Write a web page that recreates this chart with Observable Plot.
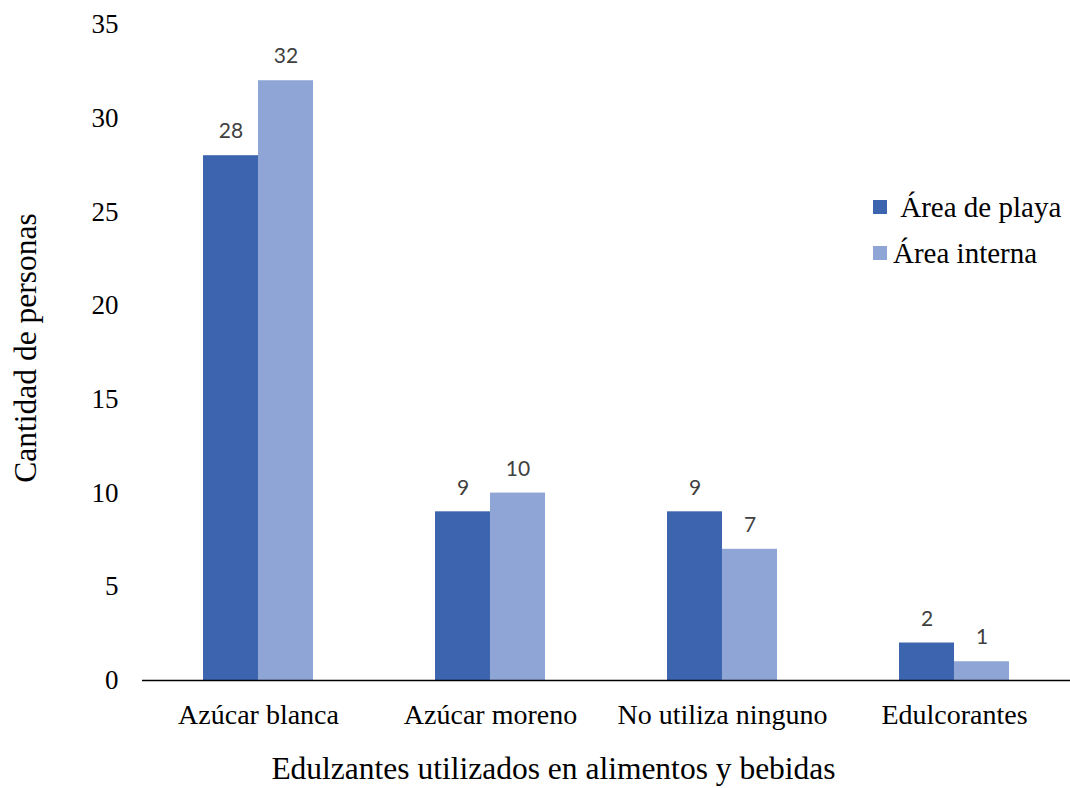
<!DOCTYPE html>
<html>
<head>
<meta charset="utf-8">
<script src="https://cdn.jsdelivr.net/npm/d3@7"></script>
<script src="https://cdn.jsdelivr.net/npm/@observablehq/plot@0.6"></script>
<style>
  body { margin: 0; background: white; }
  #wrap { position: relative; width: 1070px; height: 788px; }
  #legend { position: absolute; left: 873px; top: 184px; font-family: "Liberation Serif", "Times New Roman", serif; font-size: 29px; color: #000; }
  .item { display: flex; align-items: center; height: 46px; white-space: pre; }
  .sw { width: 14px; height: 14px; margin-right: 6px; }
</style>
</head>
<body>
<div id="wrap"><div id="legend"></div></div>
<script>
const categories = ["Azúcar blanca", "Azúcar moreno", "No utiliza ninguno", "Edulcorantes"];
const series = ["Área de playa", "Área interna"];
const playa = [28, 9, 9, 2];
const interna = [32, 10, 7, 1];
const yTicks = [0, 5, 10, 15, 20, 25, 30, 35];
const colors = ["#3D64AE", "#8FA5D5"];
const xTitle = "Edulzantes utilizados en alimentos y bebidas";
const yTitle = "Cantidad de personas";

const data = categories.flatMap((c, i) => [
  {cat: c, serie: series[0], value: playa[i]},
  {cat: c, serie: series[1], value: interna[i]}
]);

const serif = "Liberation Serif, 'Times New Roman', serif";

const chart = Plot.plot({
  width: 1070,
  height: 788,
  marginLeft: 141,
  marginRight: 0,
  marginTop: 24,
  marginBottom: 108,
  style: {fontFamily: serif, background: "white", color: "black", fontSize: "27px"},
  fx: {domain: categories, padding: 0},
  x: {domain: series, paddingInner: 0, paddingOuter: 1.09, axis: null},
  y: {domain: [0, 35]},
  color: {domain: series, range: colors},
  marks: [
    Plot.barY(data, {fx: "cat", x: "serie", y: "value", fill: "serie"}),
    Plot.text(data, {fx: "cat", x: "serie", y: "value", text: d => String(d.value), dy: -24, fontSize: 21, fill: "#404040", fontFamily: "Lato, 'Open Sans', sans-serif"}),
    Plot.ruleY([0], {stroke: "black", strokeWidth: 1.3}),
    Plot.axisY({ticks: yTicks, tickSize: 0, tickPadding: 24, fontSize: 27, label: null}),
    Plot.axisFx({anchor: "bottom", tickSize: 0, tickPadding: 24, fontSize: 28, label: null})
  ]
});

const svg = d3.select(chart.tagName.toLowerCase() === "svg" ? chart : chart.querySelector("svg"));
const fxr = chart.scale("fx").range || [141, 1070];
const yr = chart.scale("y").range;
svg.append("text")
  .attr("x", (fxr[0] + fxr[1]) / 2 - 52)
  .attr("y", 779)
  .attr("text-anchor", "middle")
  .attr("font-family", serif)
  .attr("font-size", 31.5)
  .attr("fill", "black")
  .text(xTitle);
svg.append("text")
  .attr("transform", `translate(36,${(yr[0] + yr[1]) / 2 - 4}) rotate(-90)`)
  .attr("text-anchor", "middle")
  .attr("font-family", serif)
  .attr("font-size", 31.5)
  .attr("fill", "black")
  .text(yTitle);

document.getElementById("wrap").prepend(chart);

const legend = d3.select("#legend");
series.forEach((s, i) => {
  const it = legend.append("div").attr("class", "item");
  it.append("div").attr("class", "sw").style("background", colors[i]);
  it.append("span").text((i === 0 ? " " : "") + s);
});
</script>
</body>
</html>
